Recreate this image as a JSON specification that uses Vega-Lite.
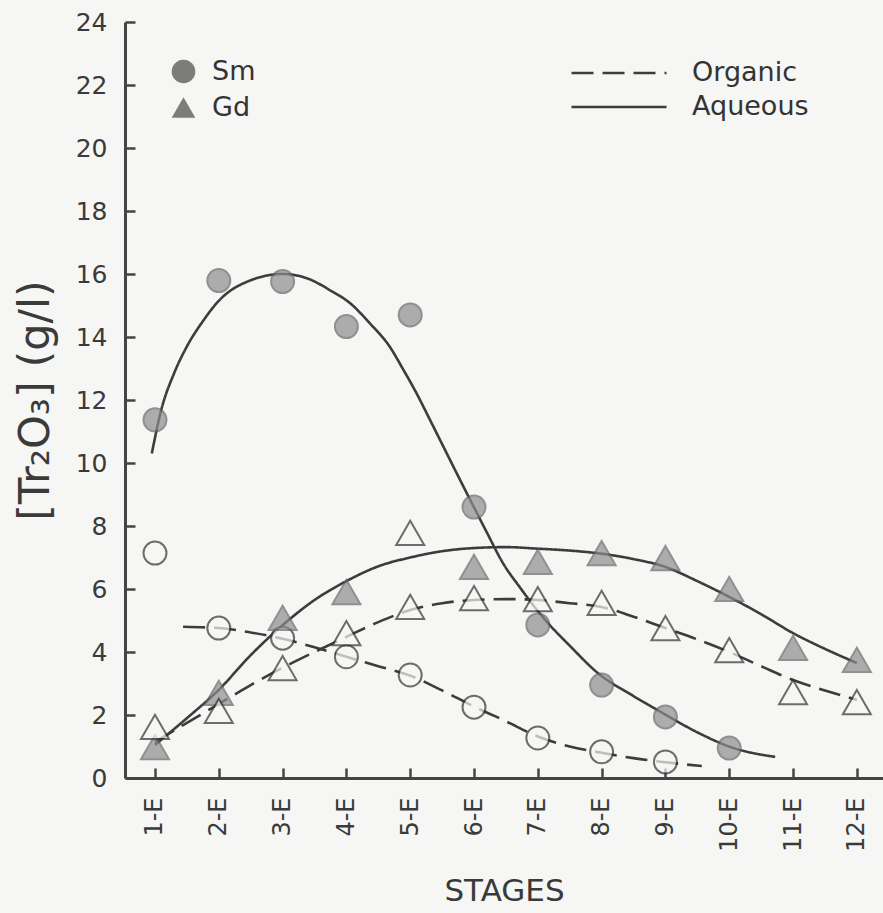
{
  "$schema": "https://vega.github.io/schema/vega-lite/v6.json",
  "width": 758,
  "height": 756,
  "autosize": {"type": "none"},
  "padding": {"left": 125, "top": 22, "right": 0, "bottom": 135},
  "background": "#f6f6f4",
  "config": {
    "view": {"stroke": null},
    "font": "DejaVu Sans",
    "axis": {"domainColor": "#444444", "domainWidth": 3, "ticks": false, "gridColor": "#444444", "gridWidth": 2.5, "gridOpacity": 1, "labelColor": "#3a3a3a", "titleColor": "#3a3a3a", "titleFontWeight": "normal"}
  },
  "datasets": {
    "points": [
      {"stage": 1, "conc": 11.37, "element": "Sm", "phase": "Aqueous"},
      {"stage": 2, "conc": 15.79, "element": "Sm", "phase": "Aqueous"},
      {"stage": 3, "conc": 15.76, "element": "Sm", "phase": "Aqueous"},
      {"stage": 4, "conc": 14.33, "element": "Sm", "phase": "Aqueous"},
      {"stage": 5, "conc": 14.7, "element": "Sm", "phase": "Aqueous"},
      {"stage": 6, "conc": 8.6, "element": "Sm", "phase": "Aqueous"},
      {"stage": 7, "conc": 4.86, "element": "Sm", "phase": "Aqueous"},
      {"stage": 8, "conc": 2.95, "element": "Sm", "phase": "Aqueous"},
      {"stage": 9, "conc": 1.94, "element": "Sm", "phase": "Aqueous"},
      {"stage": 10, "conc": 0.95, "element": "Sm", "phase": "Aqueous"},
      {"stage": 1, "conc": 7.14, "element": "Sm", "phase": "Organic"},
      {"stage": 2, "conc": 4.76, "element": "Sm", "phase": "Organic"},
      {"stage": 3, "conc": 4.44, "element": "Sm", "phase": "Organic"},
      {"stage": 4, "conc": 3.85, "element": "Sm", "phase": "Organic"},
      {"stage": 5, "conc": 3.27, "element": "Sm", "phase": "Organic"},
      {"stage": 6, "conc": 2.25, "element": "Sm", "phase": "Organic"},
      {"stage": 7, "conc": 1.27, "element": "Sm", "phase": "Organic"},
      {"stage": 8, "conc": 0.83, "element": "Sm", "phase": "Organic"},
      {"stage": 9, "conc": 0.51, "element": "Sm", "phase": "Organic"},
      {"stage": 1, "conc": 0.98, "element": "Gd", "phase": "Aqueous"},
      {"stage": 2, "conc": 2.7, "element": "Gd", "phase": "Aqueous"},
      {"stage": 3, "conc": 5.08, "element": "Gd", "phase": "Aqueous"},
      {"stage": 4, "conc": 5.9, "element": "Gd", "phase": "Aqueous"},
      {"stage": 6, "conc": 6.7, "element": "Gd", "phase": "Aqueous"},
      {"stage": 7, "conc": 6.86, "element": "Gd", "phase": "Aqueous"},
      {"stage": 8, "conc": 7.14, "element": "Gd", "phase": "Aqueous"},
      {"stage": 9, "conc": 6.98, "element": "Gd", "phase": "Aqueous"},
      {"stage": 10, "conc": 6.0, "element": "Gd", "phase": "Aqueous"},
      {"stage": 11, "conc": 4.13, "element": "Gd", "phase": "Aqueous"},
      {"stage": 12, "conc": 3.75, "element": "Gd", "phase": "Aqueous"},
      {"stage": 1, "conc": 1.62, "element": "Gd", "phase": "Organic"},
      {"stage": 2, "conc": 2.13, "element": "Gd", "phase": "Organic"},
      {"stage": 3, "conc": 3.49, "element": "Gd", "phase": "Organic"},
      {"stage": 4, "conc": 4.6, "element": "Gd", "phase": "Organic"},
      {"stage": 5, "conc": 5.43, "element": "Gd", "phase": "Organic"},
      {"stage": 5, "conc": 7.78, "element": "Gd", "phase": "Organic"},
      {"stage": 6, "conc": 5.71, "element": "Gd", "phase": "Organic"},
      {"stage": 7, "conc": 5.68, "element": "Gd", "phase": "Organic"},
      {"stage": 8, "conc": 5.56, "element": "Gd", "phase": "Organic"},
      {"stage": 9, "conc": 4.76, "element": "Gd", "phase": "Organic"},
      {"stage": 10, "conc": 4.06, "element": "Gd", "phase": "Organic"},
      {"stage": 11, "conc": 2.73, "element": "Gd", "phase": "Organic"},
      {"stage": 12, "conc": 2.41, "element": "Gd", "phase": "Organic"}
    ],
    "curves": [
      {"curve": "Sm Aqueous", "phase": "Aqueous", "stage": 0.95, "conc": 10.3},
      {"curve": "Sm Aqueous", "phase": "Aqueous", "stage": 1.1, "conc": 11.7},
      {"curve": "Sm Aqueous", "phase": "Aqueous", "stage": 1.3, "conc": 12.85},
      {"curve": "Sm Aqueous", "phase": "Aqueous", "stage": 1.5, "conc": 13.7},
      {"curve": "Sm Aqueous", "phase": "Aqueous", "stage": 1.75, "conc": 14.5},
      {"curve": "Sm Aqueous", "phase": "Aqueous", "stage": 2.0, "conc": 15.15},
      {"curve": "Sm Aqueous", "phase": "Aqueous", "stage": 2.5, "conc": 15.8},
      {"curve": "Sm Aqueous", "phase": "Aqueous", "stage": 3.0, "conc": 16.0},
      {"curve": "Sm Aqueous", "phase": "Aqueous", "stage": 3.4, "conc": 15.85},
      {"curve": "Sm Aqueous", "phase": "Aqueous", "stage": 3.74, "conc": 15.49},
      {"curve": "Sm Aqueous", "phase": "Aqueous", "stage": 4.06, "conc": 15.07},
      {"curve": "Sm Aqueous", "phase": "Aqueous", "stage": 4.37, "conc": 14.43},
      {"curve": "Sm Aqueous", "phase": "Aqueous", "stage": 4.68, "conc": 13.69},
      {"curve": "Sm Aqueous", "phase": "Aqueous", "stage": 4.89, "conc": 12.97},
      {"curve": "Sm Aqueous", "phase": "Aqueous", "stage": 5.1, "conc": 12.21},
      {"curve": "Sm Aqueous", "phase": "Aqueous", "stage": 5.31, "conc": 11.37},
      {"curve": "Sm Aqueous", "phase": "Aqueous", "stage": 5.52, "conc": 10.52},
      {"curve": "Sm Aqueous", "phase": "Aqueous", "stage": 5.73, "conc": 9.67},
      {"curve": "Sm Aqueous", "phase": "Aqueous", "stage": 5.94, "conc": 8.83},
      {"curve": "Sm Aqueous", "phase": "Aqueous", "stage": 6.2, "conc": 7.8},
      {"curve": "Sm Aqueous", "phase": "Aqueous", "stage": 6.46, "conc": 6.8},
      {"curve": "Sm Aqueous", "phase": "Aqueous", "stage": 6.72, "conc": 6.05},
      {"curve": "Sm Aqueous", "phase": "Aqueous", "stage": 7.0, "conc": 5.3},
      {"curve": "Sm Aqueous", "phase": "Aqueous", "stage": 7.19, "conc": 4.85},
      {"curve": "Sm Aqueous", "phase": "Aqueous", "stage": 7.5, "conc": 4.2},
      {"curve": "Sm Aqueous", "phase": "Aqueous", "stage": 7.93, "conc": 3.35},
      {"curve": "Sm Aqueous", "phase": "Aqueous", "stage": 8.5, "conc": 2.6},
      {"curve": "Sm Aqueous", "phase": "Aqueous", "stage": 8.96, "conc": 2.06},
      {"curve": "Sm Aqueous", "phase": "Aqueous", "stage": 9.5, "conc": 1.45},
      {"curve": "Sm Aqueous", "phase": "Aqueous", "stage": 10.04, "conc": 0.97},
      {"curve": "Sm Aqueous", "phase": "Aqueous", "stage": 10.72, "conc": 0.67},
      {"curve": "Sm Organic", "phase": "Organic", "stage": 1.44, "conc": 4.8},
      {"curve": "Sm Organic", "phase": "Organic", "stage": 2.0, "conc": 4.76},
      {"curve": "Sm Organic", "phase": "Organic", "stage": 2.5, "conc": 4.62},
      {"curve": "Sm Organic", "phase": "Organic", "stage": 3.0, "conc": 4.42},
      {"curve": "Sm Organic", "phase": "Organic", "stage": 3.5, "conc": 4.15},
      {"curve": "Sm Organic", "phase": "Organic", "stage": 4.0, "conc": 3.85},
      {"curve": "Sm Organic", "phase": "Organic", "stage": 4.5, "conc": 3.55},
      {"curve": "Sm Organic", "phase": "Organic", "stage": 5.0, "conc": 3.25},
      {"curve": "Sm Organic", "phase": "Organic", "stage": 5.5, "conc": 2.78},
      {"curve": "Sm Organic", "phase": "Organic", "stage": 6.0, "conc": 2.27},
      {"curve": "Sm Organic", "phase": "Organic", "stage": 6.5, "conc": 1.8},
      {"curve": "Sm Organic", "phase": "Organic", "stage": 7.0, "conc": 1.32},
      {"curve": "Sm Organic", "phase": "Organic", "stage": 7.5, "conc": 1.0},
      {"curve": "Sm Organic", "phase": "Organic", "stage": 8.0, "conc": 0.8},
      {"curve": "Sm Organic", "phase": "Organic", "stage": 8.5, "conc": 0.63},
      {"curve": "Sm Organic", "phase": "Organic", "stage": 9.0, "conc": 0.5},
      {"curve": "Sm Organic", "phase": "Organic", "stage": 9.57, "conc": 0.38},
      {"curve": "Gd Aqueous", "phase": "Aqueous", "stage": 1.0, "conc": 1.05},
      {"curve": "Gd Aqueous", "phase": "Aqueous", "stage": 1.5, "conc": 1.9},
      {"curve": "Gd Aqueous", "phase": "Aqueous", "stage": 2.0, "conc": 2.8},
      {"curve": "Gd Aqueous", "phase": "Aqueous", "stage": 2.5, "conc": 3.9},
      {"curve": "Gd Aqueous", "phase": "Aqueous", "stage": 3.0, "conc": 4.85},
      {"curve": "Gd Aqueous", "phase": "Aqueous", "stage": 3.5, "conc": 5.65},
      {"curve": "Gd Aqueous", "phase": "Aqueous", "stage": 4.0, "conc": 6.25},
      {"curve": "Gd Aqueous", "phase": "Aqueous", "stage": 4.5, "conc": 6.72},
      {"curve": "Gd Aqueous", "phase": "Aqueous", "stage": 5.0, "conc": 7.0},
      {"curve": "Gd Aqueous", "phase": "Aqueous", "stage": 5.5, "conc": 7.2},
      {"curve": "Gd Aqueous", "phase": "Aqueous", "stage": 6.0, "conc": 7.3},
      {"curve": "Gd Aqueous", "phase": "Aqueous", "stage": 6.5, "conc": 7.33},
      {"curve": "Gd Aqueous", "phase": "Aqueous", "stage": 7.0, "conc": 7.28},
      {"curve": "Gd Aqueous", "phase": "Aqueous", "stage": 7.5, "conc": 7.22},
      {"curve": "Gd Aqueous", "phase": "Aqueous", "stage": 8.0, "conc": 7.12},
      {"curve": "Gd Aqueous", "phase": "Aqueous", "stage": 8.5, "conc": 6.95},
      {"curve": "Gd Aqueous", "phase": "Aqueous", "stage": 9.0, "conc": 6.7},
      {"curve": "Gd Aqueous", "phase": "Aqueous", "stage": 9.5, "conc": 6.25},
      {"curve": "Gd Aqueous", "phase": "Aqueous", "stage": 10.0, "conc": 5.75},
      {"curve": "Gd Aqueous", "phase": "Aqueous", "stage": 10.5, "conc": 5.2},
      {"curve": "Gd Aqueous", "phase": "Aqueous", "stage": 11.0, "conc": 4.6},
      {"curve": "Gd Aqueous", "phase": "Aqueous", "stage": 11.5, "conc": 4.1},
      {"curve": "Gd Aqueous", "phase": "Aqueous", "stage": 12.0, "conc": 3.65},
      {"curve": "Gd Organic", "phase": "Organic", "stage": 1.0, "conc": 1.15},
      {"curve": "Gd Organic", "phase": "Organic", "stage": 1.5, "conc": 1.75},
      {"curve": "Gd Organic", "phase": "Organic", "stage": 2.0, "conc": 2.35},
      {"curve": "Gd Organic", "phase": "Organic", "stage": 2.5, "conc": 2.95},
      {"curve": "Gd Organic", "phase": "Organic", "stage": 3.0, "conc": 3.5},
      {"curve": "Gd Organic", "phase": "Organic", "stage": 3.5, "conc": 4.0},
      {"curve": "Gd Organic", "phase": "Organic", "stage": 4.0, "conc": 4.48},
      {"curve": "Gd Organic", "phase": "Organic", "stage": 4.5, "conc": 4.95},
      {"curve": "Gd Organic", "phase": "Organic", "stage": 5.0, "conc": 5.33},
      {"curve": "Gd Organic", "phase": "Organic", "stage": 5.5, "conc": 5.55},
      {"curve": "Gd Organic", "phase": "Organic", "stage": 6.0, "conc": 5.65},
      {"curve": "Gd Organic", "phase": "Organic", "stage": 6.5, "conc": 5.68},
      {"curve": "Gd Organic", "phase": "Organic", "stage": 7.0, "conc": 5.65},
      {"curve": "Gd Organic", "phase": "Organic", "stage": 7.5, "conc": 5.55},
      {"curve": "Gd Organic", "phase": "Organic", "stage": 8.0, "conc": 5.43},
      {"curve": "Gd Organic", "phase": "Organic", "stage": 8.5, "conc": 5.12},
      {"curve": "Gd Organic", "phase": "Organic", "stage": 9.0, "conc": 4.76},
      {"curve": "Gd Organic", "phase": "Organic", "stage": 9.5, "conc": 4.4},
      {"curve": "Gd Organic", "phase": "Organic", "stage": 10.0, "conc": 4.0},
      {"curve": "Gd Organic", "phase": "Organic", "stage": 10.5, "conc": 3.55},
      {"curve": "Gd Organic", "phase": "Organic", "stage": 11.0, "conc": 3.11},
      {"curve": "Gd Organic", "phase": "Organic", "stage": 11.5, "conc": 2.78},
      {"curve": "Gd Organic", "phase": "Organic", "stage": 12.0, "conc": 2.48}
    ]
  },
  "encoding": {
    "x": {
      "field": "stage", "type": "quantitative",
      "scale": {"domain": [0.53, 12.41], "nice": false, "zero": false},
      "axis": {
        "values": [1, 2, 3, 4, 5, 6, 7, 8, 9, 10, 11, 12],
        "labelExpr": "datum.value + '-E'",
        "labelAngle": 270, "labelFontSize": 24, "labelPadding": 19,
        "grid": true, "gridDash": [10, 2000], "gridDashOffset": 1264,
        "title": "STAGES", "titleFontSize": 31, "titlePadding": 25
      }
    },
    "y": {
      "field": "conc", "type": "quantitative",
      "scale": {"domain": [0, 24], "nice": false},
      "axis": {
        "values": [0, 2, 4, 6, 8, 10, 12, 14, 16, 18, 20, 22, 24],
        "labelFontSize": 25, "labelPadding": 18,
        "grid": true, "gridDash": [10, 2000], "gridDashOffset": 0,
        "title": "[Tr₂O₃] (g/l)", "titleFontSize": 43, "titlePadding": 18
      }
    }
  },
  "layer": [
    {
      "data": {"values": [{}]},
      "mark": {"type": "rule", "color": "#444444", "strokeWidth": 3},
      "encoding": {"x": null, "y": {"datum": 24, "type": "quantitative"}}
    },
    {
      "data": {"name": "curves"},
      "mark": {"type": "line", "interpolate": "monotone", "color": "#3c3c3c", "strokeWidth": 2.6},
      "encoding": {
        "detail": {"field": "curve", "type": "nominal"},
        "strokeDash": {
          "field": "phase", "type": "nominal",
          "scale": {"domain": ["Organic", "Aqueous"], "range": [[22, 9], [1, 0]]},
          "legend": {
            "orient": "none", "legendX": 445, "legendY": 35, "title": null,
            "labelFontSize": 27, "labelColor": "#333333", "labelOffset": 24,
            "symbolType": "stroke", "symbolSize": 9025, "symbolStrokeWidth": 2.6,
            "symbolStrokeColor": "#3c3c3c", "clipHeight": 32, "rowPadding": 2, "padding": 0
          }
        }
      }
    },
    {
      "data": {"name": "points"},
      "transform": [{"filter": "datum.element === 'Sm'"}],
      "mark": {"type": "point", "filled": true, "size": 529, "strokeWidth": 2},
      "encoding": {
        "shape": {
          "field": "element", "type": "nominal",
          "scale": {"domain": ["Sm", "Gd"], "range": ["circle", "triangle-up"]},
          "legend": {
            "orient": "none", "legendX": 45, "legendY": 36, "title": null,
            "labelFontSize": 27, "labelColor": "#333333", "labelOffset": 15,
            "symbolSize": 560, "rowPadding": 6, "padding": 0,
            "encode": {"symbols": {"update": {"fill": {"value": "#8e8e8e"}, "stroke": {"value": "#666666"}, "strokeWidth": {"value": 1.5}}}}
          }
        },
        "fill": {"field": "phase", "type": "nominal", "scale": {"domain": ["Aqueous", "Organic"], "range": ["#8e8e8e", "#f6f6f4"]}, "legend": null},
        "stroke": {"field": "phase", "type": "nominal", "scale": {"domain": ["Aqueous", "Organic"], "range": ["#666666", "#333333"]}, "legend": null}
      }
    },
    {
      "data": {"name": "points"},
      "transform": [{"filter": "datum.element === 'Gd'"}],
      "mark": {"type": "point", "filled": true, "size": 784, "strokeWidth": 2},
      "encoding": {
        "shape": {"field": "element", "type": "nominal"},
        "fill": {"field": "phase", "type": "nominal", "legend": null},
        "stroke": {"field": "phase", "type": "nominal", "legend": null}
      }
    }
  ]
}
